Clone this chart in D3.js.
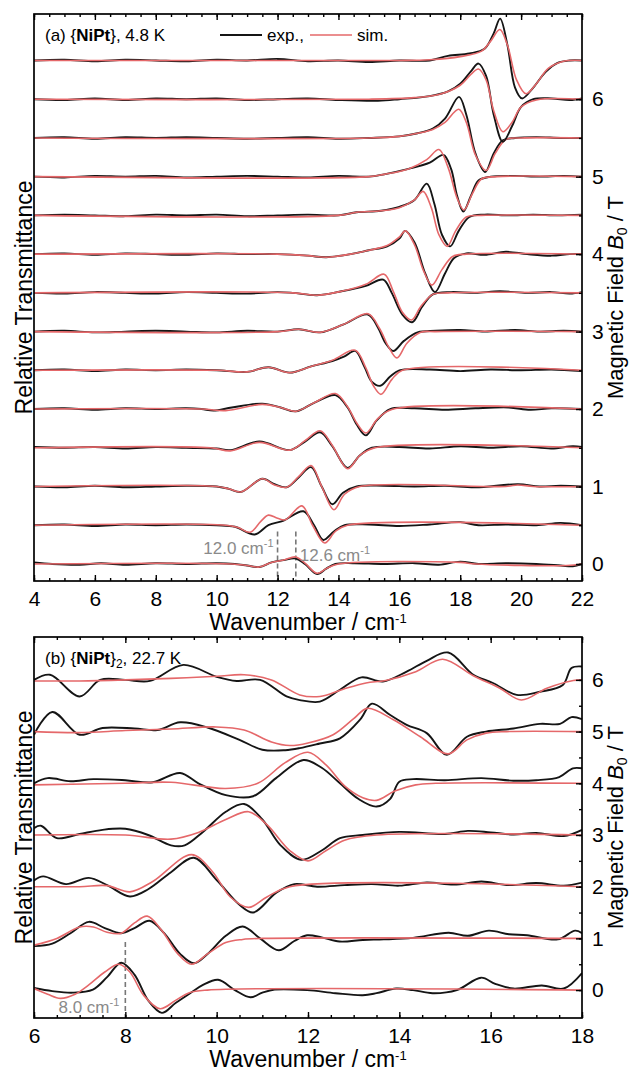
<!DOCTYPE html>
<html>
<head>
<meta charset="utf-8">
<script src="https://cdn.jsdelivr.net/npm/d3@7"></script>
<style>
  body { margin: 0; background: #fff; }
  svg text { font-family: Arial, "Liberation Sans", sans-serif; }
</style>
</head>
<body>
<svg id="chart" width="633" height="1072"></svg>
<script>
// ---- data: [wavenumber, offset] pairs, offset in field units
var fieldsA = [0, 0.5, 1, 1.5, 2, 2.5, 3, 3.5, 4, 4.5, 5, 5.5, 6, 6.5];

var expA = [
  [[4,0.02],[4.6,0],[5.5,-0.01],[6.2,0.01],[7,-0.01],[8,0.01],[9,0],[10,0.01],[10.6,0],[11,-0.02],[11.4,-0.04],[11.8,0.02],[12.2,0.05],[12.6,0.07],[12.9,0],[13.3,-0.13],[13.6,-0.06],[13.9,0],[14.5,0.01],[15.5,0],[16.5,0.01],[17.3,-0.01],[18,0.03],[18.6,0],[19.5,0.01],[20.5,0],[21.3,-0.02],[21.7,-0.03],[22,0]],
  [[4,0],[5,0.01],[6,-0.01],[7,0.01],[8,0],[9,0.01],[10,0],[10.6,-0.02],[11.25,-0.12],[11.7,0],[12.2,0.06],[12.85,0.18],[13.2,0],[13.5,-0.19],[13.85,-0.08],[14.2,0],[15,0.01],[16,-0.01],[17,0.01],[18,0.04],[18.6,0],[19.5,0.01],[20.5,0],[21.3,0.03],[22,0]],
  [[4,0],[5,-0.01],[6,0.01],[7,-0.01],[8,0],[9,0.01],[10,0],[10.4,-0.03],[10.8,-0.07],[11.5,0.1],[11.9,0.03],[12.3,-0.01],[12.7,0.12],[13.1,0.25],[13.45,0],[13.8,-0.23],[14.15,-0.08],[14.6,0],[15.5,0.01],[16.5,0],[17.5,0.01],[18.5,-0.01],[19.9,0.03],[20.6,0],[21.3,0.01],[22,0]],
  [[4,0.01],[5,0],[6,0.01],[7,-0.01],[8,0.01],[9,0],[10,-0.01],[10.45,-0.03],[11.4,0.08],[12.4,-0.03],[12.9,0.08],[13.4,0.2],[13.8,0.02],[14.3,-0.26],[14.7,-0.1],[15.1,0],[16,0.01],[17,-0.01],[18,0.02],[19,0],[20,0.02],[21,-0.01],[21.7,0.02],[22,0.01]],
  [[4,0],[5,0.01],[6,-0.01],[7,0.01],[8,0],[9,0.01],[9.5,0],[9.9,-0.02],[10.5,0.02],[11.5,0.07],[12.1,0.02],[12.6,-0.03],[13.2,0.08],[13.9,0.18],[14.3,0.02],[14.6,-0.2],[14.9,-0.34],[15.25,-0.15],[15.7,0],[16.5,0.01],[17.5,-0.01],[18.5,0.01],[19.6,0.02],[20.3,-0.01],[21,0.01],[22,0]],
  [[4,0],[5,0.01],[6,-0.01],[7,0.01],[8,0],[9,0.01],[10,0],[11,-0.02],[11.7,0.04],[12.4,-0.03],[13.1,0.05],[13.8,0.12],[14.2,0.18],[14.55,0.25],[14.85,0.05],[15.1,-0.15],[15.37,-0.2],[15.7,-0.08],[16,0],[17,0.01],[18,-0.01],[19,0.01],[20,0],[21,0.01],[22,-0.01]],
  [[4,0],[5,0.01],[6,-0.01],[7,0],[8,0.01],[9,0],[10,-0.01],[11,0.01],[12,0],[12.7,0.03],[13.4,-0.01],[14.15,0.09],[14.97,0.22],[15.3,0.05],[15.55,-0.15],[15.8,-0.25],[16.15,-0.12],[16.6,-0.01],[17.2,0.01],[18,0.02],[18.8,0],[19.8,0.02],[20.6,0],[21.4,0.01],[22,0]],
  [[4,0],[5,-0.01],[6,0.01],[7,0],[8,-0.01],[9,0.01],[10,0],[11,-0.01],[12,0.01],[12.5,0],[13.3,-0.03],[14.1,0.02],[14.9,0.09],[15.47,0.17],[15.75,0],[16.1,-0.28],[16.42,-0.38],[16.75,-0.18],[17.1,-0.02],[17.7,0.01],[18.5,0],[19.3,0.02],[20.2,0],[21,0.01],[21.6,-0.01],[22,0.01]],
  [[4,0],[5,0.01],[6,-0.01],[7,0.01],[8,0],[9,-0.01],[10,0.01],[11,0],[12,0],[13,-0.02],[13.6,-0.04],[14.4,0],[15,0.05],[15.6,0.1],[16,0.2],[16.19,0.3],[16.5,0.15],[16.85,-0.25],[17.17,-0.49],[17.5,-0.25],[17.8,-0.05],[18.2,0.01],[18.8,-0.01],[19.5,0.03],[20.2,0],[21,-0.02],[21.6,0],[22,0]],
  [[4,0],[5,0.01],[6,0],[7,-0.01],[8,0.01],[9,0],[10,0.01],[11,-0.01],[12,0],[13,0.01],[14,0],[14.6,0.04],[15.4,0.06],[16,0.11],[16.5,0.2],[16.9,0.41],[17.15,0.15],[17.4,-0.25],[17.67,-0.4],[17.95,-0.2],[18.3,-0.02],[18.8,0.01],[19.6,0],[20.4,0.01],[21.2,0],[22,0.01]],
  [[4,0],[5,-0.01],[6,0.01],[7,0],[8,0.01],[9,-0.01],[10,0],[11,0.01],[12,0],[13,-0.01],[14,0.01],[15,0],[15.5,0.03],[16.3,0.1],[17,0.18],[17.45,0.28],[17.7,0.1],[17.9,-0.25],[18.1,-0.45],[18.35,-0.25],[18.6,-0.05],[19,0],[19.8,0.01],[20.6,0],[21.4,0.01],[22,0]],
  [[4,0],[5,0.01],[6,-0.01],[7,0.01],[8,0],[9,0.01],[10,0],[11,-0.01],[12,0],[13,0.01],[14,-0.01],[15,0],[16,0.02],[16.6,0.06],[17.1,0.12],[17.5,0.25],[17.96,0.53],[18.2,0.3],[18.5,-0.2],[18.82,-0.44],[19.1,-0.2],[19.4,-0.03],[19.8,0],[20.5,0.01],[21.3,0],[22,0]],
  [[4,0],[5,-0.01],[6,0.01],[7,-0.01],[8,0.01],[9,0],[10,0.01],[11,-0.01],[12,0],[13,0.01],[14,-0.01],[15.3,-0.02],[16,0],[17,0.04],[17.6,0.1],[18,0.2],[18.35,0.36],[18.6,0.46],[18.85,0.3],[19.1,-0.2],[19.4,-0.55],[19.7,-0.35],[20,-0.1],[20.4,0],[21,0.01],[21.6,-0.01],[22,0.01]],
  [[4,0],[5,0.01],[6,-0.01],[7,0.01],[8,0],[9,-0.01],[10,0.01],[11,0],[12,0.02],[13,-0.01],[14,0],[15,-0.02],[16,0],[17,0],[17.6,0.06],[18.3,0.09],[18.8,0.15],[19.1,0.35],[19.31,0.54],[19.55,0.2],[19.8,-0.35],[20.03,-0.49],[20.4,-0.35],[20.8,-0.15],[21.2,-0.03],[21.6,0],[22,0]]
];

var simA = [
  [[4,0],[10.5,0],[11,-0.02],[11.4,-0.04],[11.8,0.02],[12.2,0.05],[12.6,0.09],[12.9,0.01],[13.3,-0.12],[13.6,-0.06],[14,0],[18,0.02],[18.5,0],[21.5,-0.02],[22,0]],
  [[4,0],[10.3,0],[10.7,-0.03],[11.1,-0.09],[11.45,0.05],[11.7,0.13],[12,0.09],[12.25,0.07],[12.8,0.25],[13.15,0],[13.55,-0.23],[13.9,-0.08],[14.3,0],[22,0]],
  [[4,0],[10,0],[10.4,-0.03],[10.8,-0.07],[11.5,0.1],[11.9,0.02],[12.3,-0.01],[12.7,0.13],[13.1,0.27],[13.45,0],[13.85,-0.3],[14.2,-0.1],[14.7,0],[19.5,0],[19.9,0.02],[20.4,0],[22,0]],
  [[4,0],[9.8,0],[10.45,-0.04],[11.4,0.07],[12.4,-0.03],[12.9,0.09],[13.4,0.22],[13.8,0.03],[14.3,-0.27],[14.7,-0.1],[15.2,0],[22,0]],
  [[4,0],[9.5,0],[10.3,-0.02],[11.5,0.06],[12.1,0.02],[12.6,-0.03],[13.2,0.08],[13.9,0.2],[14.3,0.03],[14.6,-0.18],[14.9,-0.31],[15.3,-0.12],[15.8,0],[22,0]],
  [[4,0],[10,0],[11,-0.02],[11.7,0.04],[12.4,-0.03],[13.1,0.05],[13.8,0.13],[14.55,0.26],[14.9,0.03],[15.15,-0.2],[15.4,-0.31],[15.75,-0.12],[16.1,0],[22,0]],
  [[4,0],[12,0],[12.7,0.03],[13.4,-0.01],[14.15,0.09],[14.97,0.23],[15.35,0.04],[15.65,-0.2],[15.92,-0.34],[16.25,-0.15],[16.7,-0.01],[17.2,0],[22,0]],
  [[4,0],[12.5,0],[13.3,-0.03],[14.1,0.02],[14.9,0.11],[15.5,0.24],[15.8,0.02],[16.1,-0.25],[16.4,-0.35],[16.7,-0.18],[17.1,-0.02],[17.6,0],[22,0]],
  [[4,0],[12,0],[13,-0.02],[13.6,-0.04],[14.4,0],[15,0.05],[15.6,0.11],[16,0.22],[16.2,0.3],[16.5,0.12],[16.8,-0.22],[17.07,-0.4],[17.4,-0.2],[17.75,-0.03],[18.2,0],[22,0]],
  [[4,0],[14,0],[14.6,0.04],[15.4,0.06],[16,0.1],[16.5,0.2],[16.78,0.31],[17.05,0.1],[17.3,-0.25],[17.57,-0.4],[17.85,-0.2],[18.2,-0.02],[18.7,0],[22,0]],
  [[4,0],[15,0],[15.5,0.03],[16.3,0.1],[16.9,0.22],[17.3,0.35],[17.6,0.12],[17.9,-0.28],[18.12,-0.43],[18.4,-0.22],[18.7,-0.03],[19.2,0],[22,0]],
  [[4,0],[15,0],[16,0.02],[16.6,0.06],[17.1,0.11],[17.5,0.2],[17.95,0.37],[18.2,0.2],[18.5,-0.22],[18.85,-0.42],[19.15,-0.2],[19.5,-0.02],[20,0],[22,0]],
  [[4,0],[15,0],[16.5,0.02],[17.3,0.06],[18,0.18],[18.35,0.32],[18.6,0.39],[18.85,0.25],[19.1,-0.15],[19.4,-0.42],[19.7,-0.3],[20,-0.1],[20.5,-0.01],[22,0]],
  [[4,0],[12,0],[16,0],[17,0.01],[18,0.05],[18.7,0.12],[19,0.25],[19.3,0.4],[19.55,0.2],[19.85,-0.25],[20.16,-0.43],[20.5,-0.3],[20.9,-0.1],[21.4,-0.01],[22,0]]
];

var fieldsB = [0, 1, 2, 3, 4, 5, 6];

var expB = [
  [[6,0.04],[6.4,-0.02],[6.85,-0.05],[7.29,0.01],[7.6,0.25],[7.91,0.53],[8.2,0.3],[8.5,-0.2],[8.8,-0.44],[9.1,-0.25],[9.42,-0.06],[9.7,0.1],[10.03,0.2],[10.4,0],[10.74,-0.14],[11,-0.05],[11.27,0.01],[11.98,0],[12.6,-0.06],[13.2,-0.1],[13.5,-0.06],[13.93,0.03],[14.3,0],[14.73,-0.06],[15.26,0],[15.79,0.24],[16.1,0.12],[16.5,0.03],[17.12,0.09],[17.6,0.03],[18,0.33]],
  [[6,-0.15],[6.4,-0.1],[6.8,0.1],[7.2,0.32],[7.55,0.2],[7.91,0.1],[8.2,0.2],[8.53,0.34],[8.85,0.1],[9.2,-0.3],[9.5,-0.48],[9.8,-0.3],[10.2,0.05],[10.57,0.23],[10.95,0],[11.36,-0.23],[11.7,-0.05],[11.98,0.06],[12.3,0.02],[12.69,-0.06],[13.2,-0.03],[13.66,-0.02],[14.3,0.01],[15.08,0.11],[15.5,0.05],[15.96,0.15],[16.4,0.08],[16.8,0.06],[17.47,-0.02],[17.85,0.15],[18,0.1]],
  [[6,0.12],[6.2,0.2],[6.7,0.05],[7.2,0.17],[7.6,0.03],[8.1,-0.19],[8.5,-0.05],[9,0.28],[9.5,0.56],[10,0.13],[10.5,-0.35],[10.8,-0.5],[11.3,-0.12],[11.7,0.05],[12.2,0],[12.8,0.03],[13.4,0.05],[14,0.02],[14.6,0.08],[15.2,0.04],[15.8,0.1],[16.4,0.03],[17,0.07],[17.6,0.02],[18,0.08]],
  [[6,0.13],[6.15,0.18],[6.5,-0.06],[7,0.02],[7.5,0.1],[8,0.12],[8.5,0],[9,-0.2],[9.3,-0.2],[9.7,0.06],[10.2,0.45],[10.6,0.6],[11,0.3],[11.4,-0.2],[11.85,-0.48],[12.3,-0.3],[12.7,-0.06],[13.2,0],[14,0.06],[15,0.02],[15.5,0.08],[16,0.05],[16.5,0.01],[17,0.04],[17.6,-0.02],[18,0.1]],
  [[6,0],[6.3,0.1],[6.8,0.04],[7.3,0.08],[8,0.06],[8.6,0.02],[9.2,0.2],[9.6,0],[10.2,-0.23],[10.8,-0.25],[11.3,0.1],[11.9,0.45],[12.3,0.3],[12.7,0],[13.1,-0.3],[13.5,-0.45],[13.8,-0.3],[14,0.03],[14.3,0.08],[15,0.06],[15.8,0.1],[16.5,0.05],[17,0.06],[17.5,0.12],[17.8,0.29],[18,0.29]],
  [[6,-0.06],[6.4,0.38],[7,-0.06],[7.5,0.07],[8.2,0.06],[8.7,0.03],[9.2,0.18],[9.8,0.08],[10.5,-0.16],[11,-0.35],[11.5,-0.36],[11.82,-0.32],[12.26,-0.23],[12.7,-0.13],[13.14,0.23],[13.4,0.54],[13.8,0.32],[14.16,0.13],[14.6,-0.03],[15.04,-0.45],[15.48,-0.1],[15.9,0],[16.5,0.06],[17.08,0.15],[17.52,0.15],[17.77,0.28],[18,0.24]],
  [[6,0],[6.35,0.1],[7,-0.32],[7.45,0],[8,0],[8.54,-0.02],[9.27,0.29],[10,0.06],[10.44,-0.02],[10.95,0],[11.53,-0.32],[11.82,-0.39],[12.26,-0.42],[12.7,-0.19],[13.17,0.05],[13.64,-0.03],[14.16,0.16],[14.6,0.37],[15.07,0.53],[15.62,0.1],[16.05,-0.06],[16.57,-0.29],[17.08,-0.23],[17.58,-0.1],[17.77,0.23],[18,0.26]]
];

var simB = [
  [[6,0.03],[6.3,-0.08],[6.58,-0.16],[6.9,-0.08],[7.2,0.1],[7.55,0.35],[7.86,0.5],[8.1,0.35],[8.4,-0.1],[8.76,-0.36],[9.1,-0.2],[9.4,-0.05],[9.8,0],[18,0]],
  [[6,-0.13],[6.5,0],[7,0.22],[7.3,0.22],[7.6,0.12],[7.91,0.1],[8.2,0.3],[8.48,0.43],[8.8,0.15],[9.15,-0.3],[9.45,-0.5],[9.8,-0.3],[10.2,-0.08],[10.57,-0.02],[11,0],[18,0]],
  [[6,0],[7,0],[7.6,0.02],[8.1,-0.1],[8.6,0.1],[9.45,0.62],[9.9,0.3],[10.3,-0.2],[10.7,-0.4],[11.1,-0.2],[11.6,0],[18,0]],
  [[6,0],[8,0],[9,-0.08],[9.6,0.05],[10.2,0.3],[10.7,0.45],[11.1,0.2],[11.6,-0.3],[12,-0.5],[12.4,-0.3],[12.8,-0.1],[13.5,0],[18,0]],
  [[6,-0.03],[8,0],[9,0.02],[10.2,-0.1],[10.9,0],[11.5,0.4],[12,0.6],[12.4,0.35],[12.8,-0.05],[13.2,-0.28],[13.5,-0.33],[13.9,-0.15],[14.36,-0.03],[14.8,0],[18,0]],
  [[6,0],[7,-0.02],[8,0.02],[9,0.05],[10,0.09],[10.6,0.03],[11.2,-0.2],[11.6,-0.27],[12,-0.22],[12.55,-0.06],[13,0.25],[13.3,0.45],[13.87,0.23],[14.46,-0.1],[15.07,-0.43],[15.48,-0.16],[15.9,-0.03],[16.35,0],[18,0]],
  [[6,-0.02],[7,-0.02],[8,0],[9,0.03],[10,0.07],[10.6,0.1],[11.2,0],[11.82,-0.29],[12.26,-0.32],[12.77,-0.18],[13.27,-0.06],[13.7,-0.01],[14.36,0.16],[14.95,0.4],[15.62,0.08],[16.2,-0.16],[16.67,-0.39],[17.23,-0.16],[17.81,-0.01],[18,0]]
];

var xTicksA = [4, 6, 8, 10, 12, 14, 16, 18, 20, 22];
var xTicksB = [6, 8, 10, 12, 14, 16, 18];
var fieldTicks = [0, 1, 2, 3, 4, 5, 6];
var marksA = [12.0, 12.6];
var marksB = [8.0];

var svg = d3.select("#chart");
var black = "#151515", red = "#e5686a", grey = "#8a8a8a";

function drawPanel(p) {
  var g = svg.append("g");
  var x = d3.scaleLinear().domain(p.xDomain).range([34, 582]);
  var y = d3.scaleLinear().domain(p.yDomain).range([p.bottom, p.top]);

  var clipId = "clip" + p.id;
  svg.append("clipPath").attr("id", clipId).append("rect")
    .attr("x", 34).attr("y", p.top).attr("width", 548).attr("height", p.bottom - p.top);

  var plot = g.append("g").attr("clip-path", "url(#" + clipId + ")");

  // dashed markers
  p.marks.forEach(function(m) {
    plot.append("line")
      .attr("x1", x(m)).attr("x2", x(m))
      .attr("y1", y(p.markTop)).attr("y2", y(p.yDomain[0]))
      .attr("stroke", "#777").attr("stroke-width", 1.6)
      .attr("stroke-dasharray", "5,3");
  });

  p.fields.forEach(function(b, i) {
    var line = d3.line()
      .x(function(d) { return x(d[0]); })
      .y(function(d) { return y(b + d[1]); })
      .curve(d3.curveCatmullRom.alpha(0.5));
    plot.append("path").attr("d", line(p.exp[i]))
      .attr("fill", "none").attr("stroke", black).attr("stroke-width", 1.9);
    plot.append("path").attr("d", line(p.sim[i]))
      .attr("fill", "none").attr("stroke", red).attr("stroke-width", 1.6);
  });

  // axes, ticks inward
  var minorX = d3.range(p.xDomain[0], p.xDomain[1] + 0.01, 0.5);
  g.append("g").attr("transform", "translate(0," + p.bottom + ")")
    .call(d3.axisBottom(x).tickValues(minorX).tickSize(-3).tickFormat(""));
  g.append("g").attr("transform", "translate(0," + p.bottom + ")")
    .call(d3.axisBottom(x).tickValues(p.xTicks).tickSize(-6).tickPadding(10).tickFormat(d3.format("d")))
    .attr("class", "xa");
  g.append("g").attr("transform", "translate(0," + p.top + ")")
    .call(d3.axisTop(x).tickValues(minorX).tickSize(-3).tickFormat(""));
  g.append("g").attr("transform", "translate(0," + p.top + ")")
    .call(d3.axisTop(x).tickValues(p.xTicks).tickSize(-6).tickFormat(""));
  var minorY = d3.range(0, 6.01, 0.5);
  g.append("g").attr("transform", "translate(582,0)")
    .call(d3.axisRight(y).tickValues(minorY).tickSize(-3).tickFormat(""));
  g.append("g").attr("transform", "translate(582,0)")
    .call(d3.axisRight(y).tickValues(fieldTicks).tickSize(-6).tickPadding(10).tickFormat(d3.format("d")))
    .attr("class", "ya");

  g.selectAll(".domain").remove();
  g.selectAll(".tick line").attr("stroke", "#000").attr("stroke-width", 1.4);
  g.selectAll(".xa text, .ya text").attr("font-size", 21).attr("fill", "#000")
    .attr("font-family", "Arial, 'Liberation Sans', sans-serif");

  g.append("rect").attr("x", 34).attr("y", p.top).attr("width", 548)
    .attr("height", p.bottom - p.top).attr("fill", "none")
    .attr("stroke", "#000").attr("stroke-width", 1.7);

  // axis titles
  var xt = g.append("text").attr("x", 308).attr("y", p.bottom + 49)
    .attr("text-anchor", "middle").attr("font-size", 23);
  xt.append("tspan").text("Wavenumber / cm");
  xt.append("tspan").attr("dy", -7).attr("font-size", 13).text("-1");

  var mid = (p.top + p.bottom) / 2;
  g.append("text").attr("transform", "translate(32," + mid + ") rotate(-90)")
    .attr("text-anchor", "middle").attr("font-size", 23).text("Relative Transmittance");

  var yt = g.append("text").attr("transform", "translate(623," + mid + ") rotate(-90)")
    .attr("text-anchor", "middle").attr("font-size", 22);
  yt.append("tspan").text("Magnetic Field ");
  yt.append("tspan").attr("font-style", "italic").text("B");
  yt.append("tspan").attr("dy", 4).attr("font-size", 14).text("0");
  yt.append("tspan").attr("dy", -4).text(" / T");

  // panel title
  var t = g.append("text").attr("x", 45).attr("y", p.top + 27).attr("font-size", 17);
  t.append("tspan").text(p.label + " {");
  t.append("tspan").attr("font-weight", "bold").text("NiPt");
  t.append("tspan").text("}");
  if (p.sub) t.append("tspan").attr("dy", 4).attr("font-size", 12).text(p.sub);
  t.append("tspan").attr("dy", p.sub ? -4 : 0).text(", " + p.temp);

  // marker labels
  p.markLabels.forEach(function(ml) {
    var tx = g.append("text").attr("x", x(ml.at) + ml.dx).attr("y", y(ml.v))
      .attr("text-anchor", ml.anchor).attr("font-size", 17).attr("fill", grey);
    tx.append("tspan").text(ml.text + " cm");
    tx.append("tspan").attr("dy", -7).attr("font-size", 11).text("-1");
  });
  return { x: x, y: y, g: g };
}

var pa = drawPanel({
  id: "a", xDomain: [4, 22], yDomain: [-0.22, 7.1], top: 14, bottom: 581,
  fields: fieldsA, exp: expA, sim: simA, xTicks: xTicksA,
  marks: marksA, markTop: 0.42, label: "(a)", temp: "4.8 K",
  markLabels: [
    { at: marksA[0], v: 0.13, dx: -4, anchor: "end", text: "12.0" },
    { at: marksA[1], v: 0.04, dx: 4, anchor: "start", text: "12.6" }
  ]
});

var pb = drawPanel({
  id: "b", xDomain: [6, 18], yDomain: [-0.54, 6.83], top: 637, bottom: 1018,
  fields: fieldsB, exp: expB, sim: simB, xTicks: xTicksB,
  marks: marksB, markTop: 0.93, label: "(b)", sub: "2", temp: "22.7 K",
  markLabels: [
    { at: marksB[0], v: -0.44, dx: -6, anchor: "end", text: "8.0" }
  ]
});

// legend in panel (a)
var lg = pa.g.append("g");
lg.append("line").attr("x1", 220).attr("x2", 262).attr("y1", 35).attr("y2", 35)
  .attr("stroke", black).attr("stroke-width", 1.9);
lg.append("text").attr("x", 267).attr("y", 41).attr("font-size", 17).text("exp.,");
lg.append("line").attr("x1", 310).attr("x2", 352).attr("y1", 35).attr("y2", 35)
  .attr("stroke", red).attr("stroke-width", 1.6);
lg.append("text").attr("x", 357).attr("y", 41).attr("font-size", 17).text("sim.");
</script>
</body>
</html>
